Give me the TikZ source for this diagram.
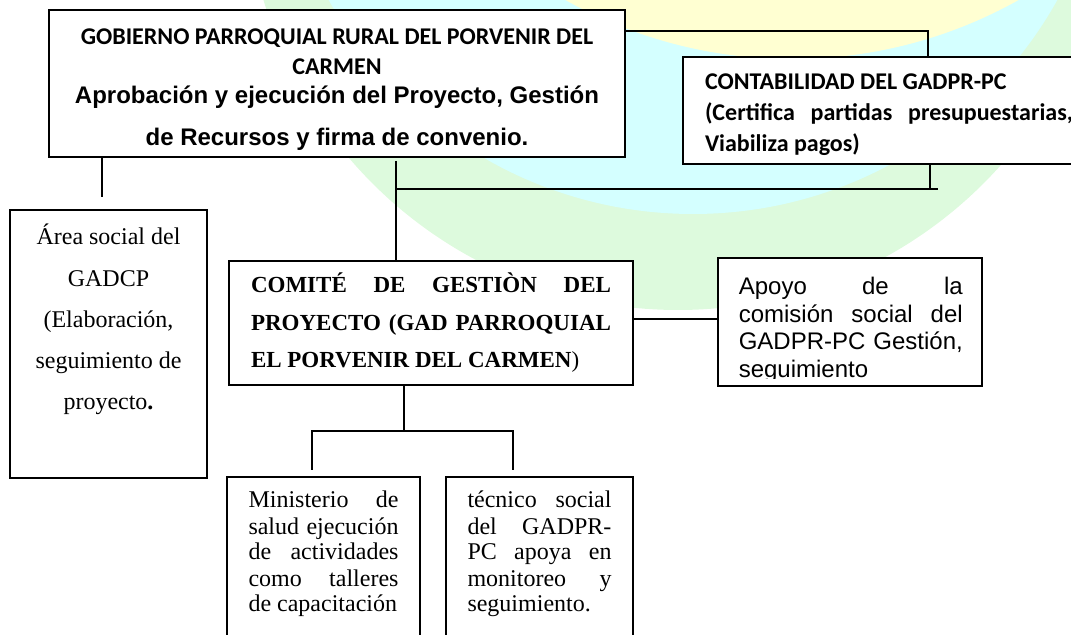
\documentclass[tikz,border=0pt]{standalone}
\usepackage{fontspec}
\setmainfont{Liberation Serif}
\newfontfamily\calibri{Carlito}
\newfontfamily\arial{Liberation Sans}
\hyphenpenalty=10000
\newcommand{\doce}{\fontsize{12}{13.8}\selectfont}
\definecolor{verdefondo}{RGB}{221,250,221}
\definecolor{cianfondo}{RGB}{212,255,255}
\definecolor{amarillofondo}{RGB}{255,255,210}
\tikzset{
  caja/.style={draw, line width=0.8pt, fill=white, inner ysep=0pt},
  linea/.style={line width=0.8pt},
}
\begin{document}
\begin{tikzpicture}[x=0.5pt, y=-0.5pt]
    \useasboundingbox (0,0) rectangle (1071,635);
    % fondo
    \begin{scope}
        \clip (0,0) rectangle (1071,635);
        \foreach \col/\cx/\cy/\rad in {verdefondo/678/-122/216pt, cianfondo/693/-203/208.5pt, amarillofondo/792/-405/232pt} {
            \fill[\col] (\cx,\cy) circle[radius=\rad];
        };
    \end{scope}

    % cajas
    \node[caja, inner xsep=8pt] (gob) at (337,83.5) {\parbox[c][73.5pt][t]{272pt}{\centering\doce
        \rule{0pt}{17.5pt}{\calibri\bfseries GOBIERNO PARROQUIAL RURAL DEL PORVENIR DEL\\[1.2pt]CARMEN}\\[0.5pt]
        {\arial\bfseries Aprobación y ejecución del Proyecto, Gestión\\[7.2pt]de Recursos y firma de convenio.}}};
    \node[caja, inner xsep=11pt] (cont) at (889,110.5) {\parbox[c][53.5pt][t]{184pt}{\doce\calibri\bfseries\baselineskip=15.5pt
        \rule{0pt}{16.4pt}CONTABILIDAD DEL GADPR-PC\\(Certifica partidas presupuestarias,\linebreak Viabiliza pagos)}};
    \node[caja, inner xsep=4pt] (area) at (108.5,344) {\parbox[c][134pt][t]{90.5pt}{\centering\doce\baselineskip=20.6pt
        \rule{0pt}{17.5pt}Área social del\\GADCP\\(Elaboración,\\seguimiento de\\proyecto\textbf{.}}};
    \node[caja, inner xsep=11pt] (com) at (431,323) {\parbox[c][62pt][t]{180pt}{\fontsize{11.5}{18.75}\selectfont\bfseries
        \rule{0pt}{16pt}COMITÉ DE GESTIÒN DEL\linebreak PROYECTO (GAD PARROQUIAL\linebreak EL PORVENIR DEL CARMEN\textmd{)}}};
    \node[caja, minimum width=132pt, minimum height=64pt, path picture={
            \clip (path picture bounding box.north west) rectangle ([yshift=3.5pt]path picture bounding box.south east);
            \node[anchor=north west, draw=none, fill=none, inner sep=0pt, minimum width=0pt, minimum height=0pt]
                at ([xshift=10pt]path picture bounding box.north west)
                {\parbox[t]{112pt}{\doce\arial\baselineskip=13.75pt
                \rule{0pt}{18pt}Apoyo de la\linebreak comisión social del\linebreak GADPR-PC Gestión,\linebreak seguimiento}};
        }] (apoyo) at (850,322) {};
    \node[caja, inner xsep=10.75pt] (mini) at (323.5,598.5) {\parbox[c][121.5pt][t]{75pt}{\doce\baselineskip=13pt
        \rule{0pt}{15.5pt}Ministerio de\linebreak salud ejecución\linebreak de actividades\linebreak como talleres\linebreak de capacitación}};
    \node[caja, inner xsep=10.75pt] (tec) at (539.5,598.5) {\parbox[c][121.5pt][t]{72pt}{\doce\baselineskip=13pt
        \rule{0pt}{15.5pt}técnico social\linebreak del GADPR-\linebreak PC apoya en\linebreak monitoreo y\linebreak seguimiento.}};

    % conectores
    \coordinate (jc) at (928,31);
    \coordinate (ja) at (102,197);
    \coordinate (jm) at (396,161);
    \coordinate (jh) at (938,189);
    \coordinate (jv) at (930,189);
    \coordinate (jb) at (404,431);
    \coordinate (jl) at (312,470);
    \coordinate (jr) at (513,470);
    \draw[linea] (gob.east |- jc) -| (cont.north -| jc);
    \draw[linea] (gob.south -| ja) -- (ja);
    \draw[linea] (jm) -- (jm |- com.north);
    \draw[linea] (jm |- jh) -- (jh);
    \draw[linea] (cont.south -| jv) -- (jv);
    \coordinate (ca) at ([yshift=2pt]com.east);
    \draw[linea] (ca) -- (ca -| apoyo.west);
    \draw[linea] (com.south -| jb) -- (jb);
    \draw[linea] (jl) |- (jb) -| (jr);
\end{tikzpicture}
\end{document}
